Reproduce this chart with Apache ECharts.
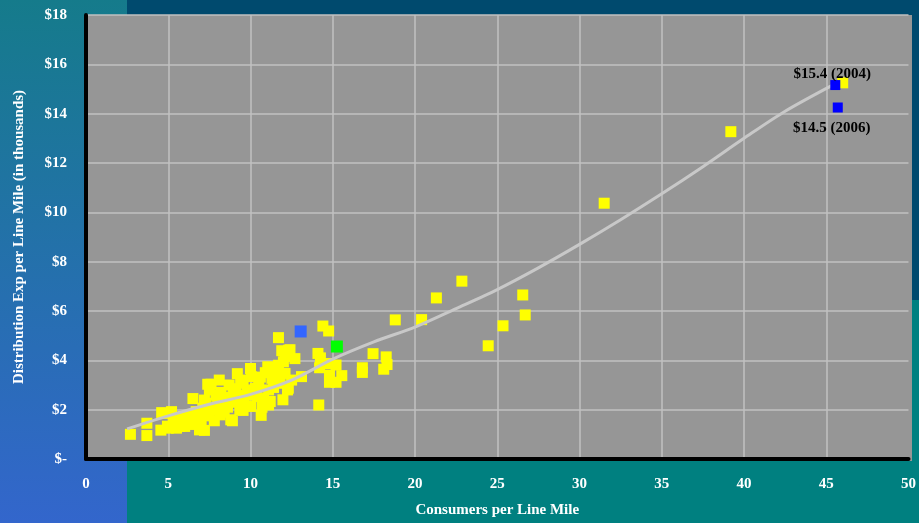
<!DOCTYPE html>
<html>
<head>
<meta charset="utf-8">
<script src="https://cdn.jsdelivr.net/npm/echarts@6/dist/echarts.min.js"></script>
<style>html,body{margin:0;padding:0;background:#008080;}#c{width:919px;height:523px;}</style>
</head>
<body>
<div id="c"></div>
<script>
// x: consumers per line mile, y: distribution expense per line mile ($ thousands)
var utilityPoints = [
  [2.7,1.0],[3.7,0.95],[3.7,1.45],
  [4.55,1.17],[4.6,1.88],[4.95,1.85],[4.95,1.33],[5.0,1.25],[5.2,1.92],[5.3,1.45],[5.5,1.25],[5.5,1.65],
  [5.7,1.32],[5.8,1.55],[5.9,1.72],[6.0,1.32],[6.2,1.45],[6.3,1.65],[6.4,1.8],[6.5,2.45],[6.6,1.4],
  [6.7,1.92],[6.9,1.18],[6.9,1.65],[7.0,1.5],[7.1,2.06],[7.2,1.16],[7.2,2.39],[7.3,2.26],[7.3,1.9],
  [7.4,3.03],[7.5,2.8],[7.5,1.75],[7.6,3.03],[7.7,2.0],[7.8,1.55],[7.9,2.59],[8.0,2.2],[8.1,3.2],
  [8.15,1.79],[8.2,2.7],[8.3,2.5],[8.4,1.9],[8.5,2.33],[8.6,2.1],[8.7,3.0],[8.8,1.59],[8.9,1.55],
  [8.95,2.66],[9.0,2.3],[9.1,2.85],[9.2,3.46],[9.3,2.5],[9.35,1.99],[9.4,3.2],[9.55,1.97],[9.55,3.07],
  [9.6,2.2],[9.7,2.59],[9.8,2.8],[10.0,3.67],[10.0,2.13],[10.05,3.34],[10.2,2.6],[10.3,2.87],[10.4,2.53],
  [10.5,3.0],[10.6,3.32],[10.65,1.77],[10.7,2.1],[10.8,2.45],[10.9,3.5],[11.05,3.74],[11.1,2.8],[11.1,2.19],
  [11.2,2.33],[11.3,3.27],[11.4,2.9],[11.5,3.67],[11.6,3.07],[11.7,4.92],[11.7,3.8],[11.8,3.3],[11.9,4.39],
  [11.97,2.4],[12.0,3.94],[12.1,4.16],[12.1,3.47],[12.25,2.8],[12.3,4.41],[12.3,2.87],[12.4,4.43],[12.5,3.2],
  [12.7,4.07],[13.1,3.34],[14.1,4.28],[14.15,2.19],[14.2,3.7],[14.25,4.1],[14.4,5.39],[14.75,5.19],[14.8,3.87],
  [14.8,3.4],[14.8,3.11],[15.2,3.81],[15.2,3.11],[15.55,3.38],[16.8,3.7],[16.8,3.51],[17.45,4.27],[18.1,3.64],
  [18.25,4.14],[18.3,3.83],[18.8,5.64],[20.4,5.65],[21.3,6.53],[22.85,7.21],[24.45,4.59],[25.35,5.4],
  [26.55,6.65],[26.7,5.84],[31.5,10.37],[39.2,13.27],[46.0,15.25]
];
var trendLine = [
  [2.5,1.22],[5,1.75],[7.5,2.22],[10,2.62],[12.5,3.2],[15,4.05],[17.5,4.75],[20,5.35],[22.5,6.1],
  [25,6.87],[27.5,7.75],[30,8.7],[32.5,9.7],[35,10.75],[37.5,11.85],[40,13.0],[42.5,14.1],[45.5,15.2]
];
var highlightBlue = [[13.05,5.17]];
var highlightGreen = [[15.25,4.56]];
var point2004 = [[45.55,15.16]];
var point2006 = [[45.7,14.25]];
var label2004 = '$15.4 (2004)';
var label2006 = '$14.5 (2006)';
var xTicks = [0,5,10,15,20,25,30,35,40,45,50];
var yTicks = [0,2,4,6,8,10,12,14,16,18];

var chart = echarts.init(document.getElementById('c'), null, {renderer:'canvas'});
var font = '"Liberation Serif","Times New Roman",serif';
chart.setOption({
  animation:false,
  backgroundColor:'#008080',
  graphic:[
    {type:'rect', z:-10, silent:true, shape:{x:127,y:0,width:792,height:15}, style:{fill:'#004a6e'}},
    {type:'rect', z:-10, silent:true, shape:{x:900,y:0,width:19,height:300}, style:{fill:'#004a6e'}},
    {type:'rect', z:-10, silent:true, shape:{x:0,y:0,width:127,height:523},
      style:{fill:new echarts.graphic.LinearGradient(0,0,0,1,[{offset:0,color:'#157b8b'},{offset:1,color:'#3366cc'}])}},
    {type:'rect', z:-5, silent:true, shape:{x:86,y:15,width:826,height:446}, style:{fill:'#969696'}}
  ],
  grid:{left:86, right:10, top:15, bottom:62, show:false},
  xAxis:{
    type:'value', min:0, max:50, interval:5,
    name:'Consumers per Line Mile', nameLocation:'middle', nameGap:44,
    nameTextStyle:{color:'#ffffff', fontFamily:font, fontWeight:'bold', fontSize:15},
    axisLine:{show:true, onZero:false, lineStyle:{color:'#000000', width:4}},
    axisTick:{show:false},
    axisLabel:{color:'#ffffff', fontFamily:font, fontWeight:'bold', fontSize:15, margin:18,
      formatter:function(v){return xTicks.indexOf(v)>=0 ? String(v) : '';}},
    splitLine:{show:true, showMinLine:false, showMaxLine:false, lineStyle:{color:'#c0c0c0', width:1.5}}
  },
  yAxis:{
    type:'value', min:0, max:18, interval:2,
    name:'Distribution Exp per Line Mile (in thousands)', nameLocation:'middle', nameGap:59,
    nameTextStyle:{color:'#ffffff', fontFamily:font, fontWeight:'bold', fontSize:15},
    axisLine:{show:true, onZero:false, lineStyle:{color:'#000000', width:4}},
    axisTick:{show:false},
    axisLabel:{color:'#ffffff', fontFamily:font, fontWeight:'bold', fontSize:15, margin:19,
      formatter:function(v){ if(yTicks.indexOf(v)<0) return ''; return v===0 ? '$-' : '$'+v; }},
    splitLine:{show:true, showMinLine:false, lineStyle:{color:'#c0c0c0', width:1.5}}
  },
  series:[
    {type:'scatter', data:utilityPoints, symbol:'rect', symbolSize:11, itemStyle:{color:'#ffff00', opacity:1}, z:2},
    {type:'line', data:trendLine, smooth:0.3, showSymbol:false, symbol:'none',
      lineStyle:{color:'#c8c8c8', width:3}, z:3},
    {type:'scatter', data:highlightBlue, symbol:'rect', symbolSize:12, itemStyle:{color:'#3366ff', opacity:1}, z:4},
    {type:'scatter', data:highlightGreen, symbol:'rect', symbolSize:12, itemStyle:{color:'#00ff00', opacity:1}, z:4},
    {type:'scatter', data:point2004, symbol:'rect', symbolSize:10, itemStyle:{color:'#0000ff', opacity:1}, z:5,
      label:{show:true, position:'inside', offset:[-3,-11], formatter:label2004,
        color:'#000000', fontFamily:font, fontWeight:'bold', fontSize:15}},
    {type:'scatter', data:point2006, symbol:'rect', symbolSize:10, itemStyle:{color:'#0000ff', opacity:1}, z:5,
      label:{show:true, position:'inside', offset:[-6,21], formatter:label2006,
        color:'#000000', fontFamily:font, fontWeight:'bold', fontSize:15}}
  ]
});
</script>
</body>
</html>
